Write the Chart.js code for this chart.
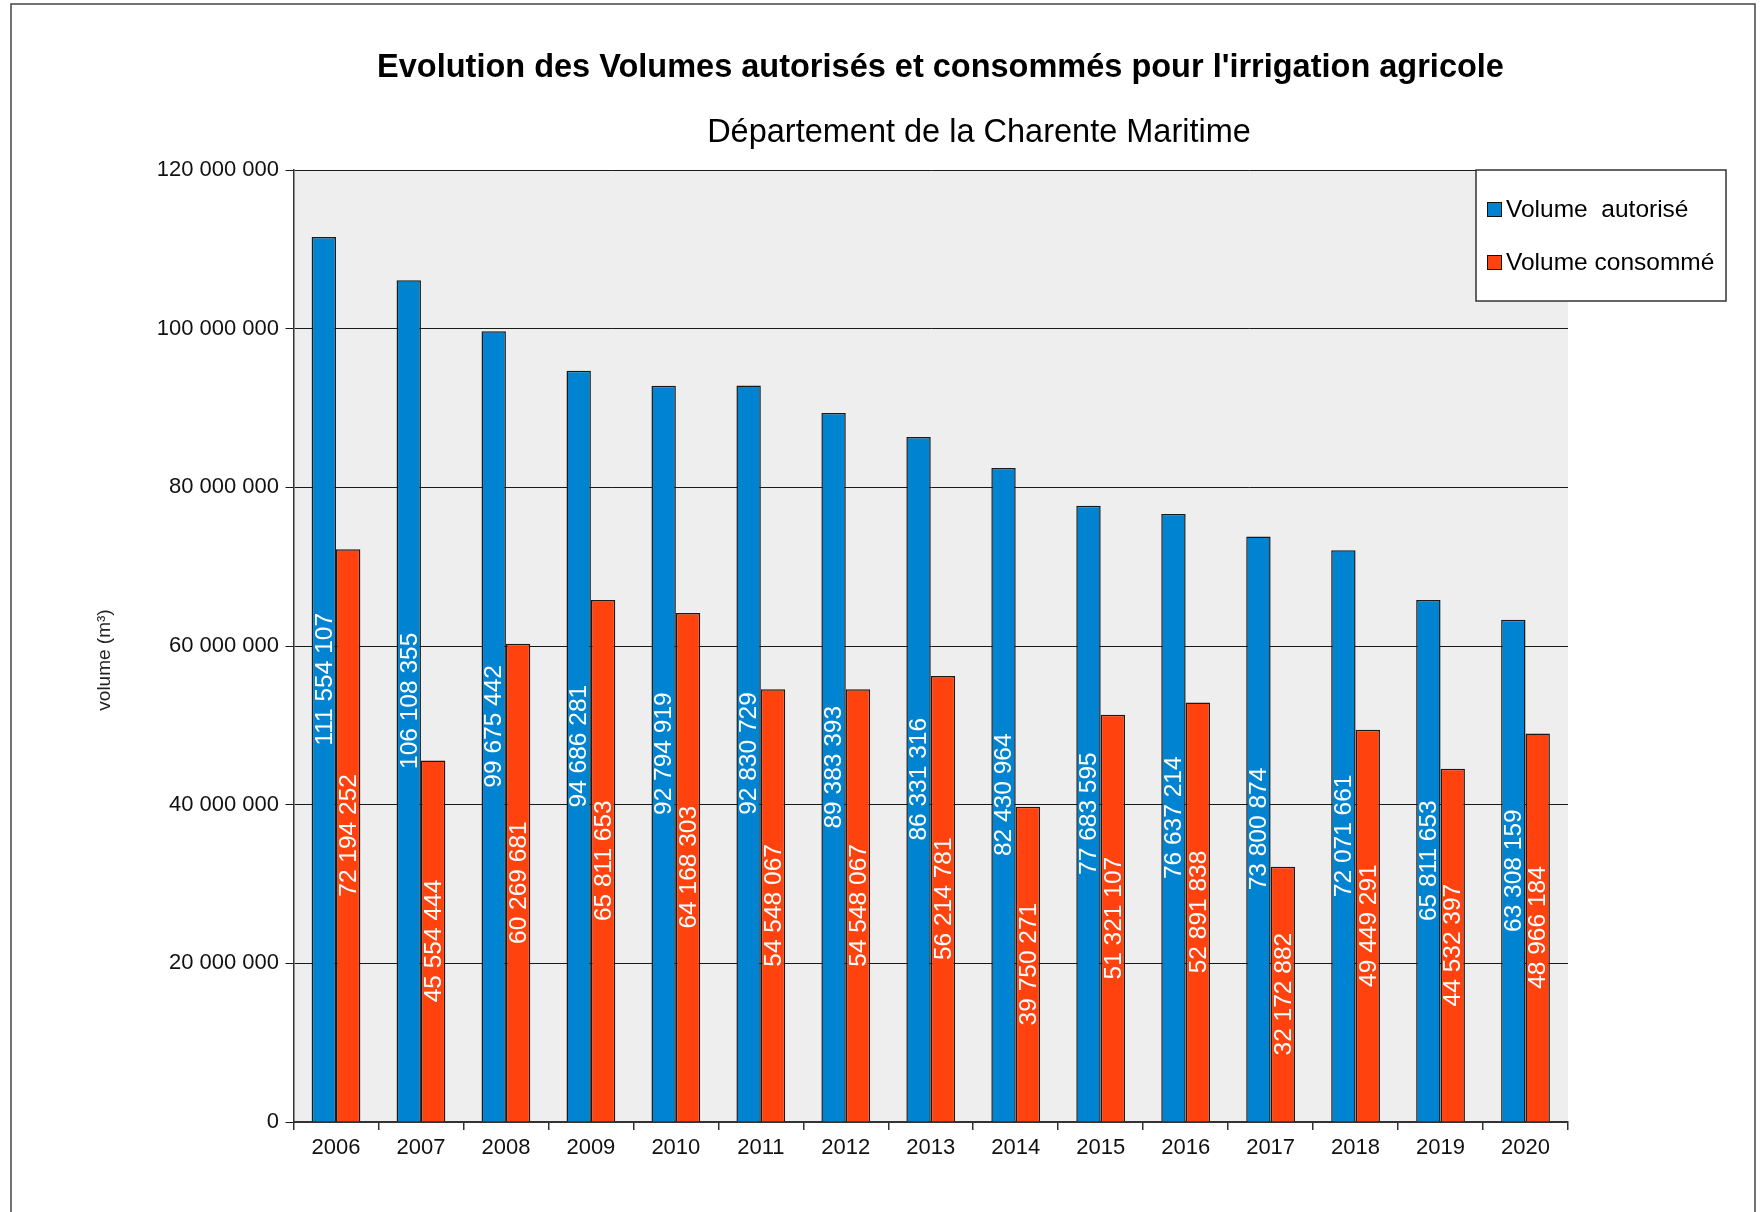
<!DOCTYPE html>
<html>
<head>
<meta charset="utf-8">
<script src="https://cdn.jsdelivr.net/npm/chart.js@4.4.1/dist/chart.umd.min.js"></script>
<style>
html,body{margin:0;padding:0;background:#fff;}
canvas{display:block;}
</style>
</head>
<body>
<canvas id="c" width="1764" height="1212"></canvas>
<script>
// ---- Data ----
const years = ['2006','2007','2008','2009','2010','2011','2012','2013','2014','2015','2016','2017','2018','2019','2020'];
const volumeAutorise = [111554107,106108355,99675442,94686281,92794919,92830729,89383393,86331316,82430964,77683595,76637214,73800874,72071661,65811653,63308159];
const volumeConsomme = [72194252,45554444,60269681,65811653,64168303,54548067,54548067,56214781,39750271,51321107,52891838,32172882,49449291,44532397,48966184];
const yTickValues = [0,20000000,40000000,60000000,80000000,100000000,120000000];
const seriesNames = ['Volume  autorisé','Volume consommé'];
const seriesColors = ['#0084d1','#ff420e'];
const titleText = "Evolution des Volumes autorisés et consommés pour l'irrigation agricole";
const subtitleText = 'Département de la Charente Maritime';
const yAxisTitle = 'volume (m³)';

const FONT = '"Liberation Sans", Arial, sans-serif';
function fmt(v){ return String(Math.round(v)).replace(/\B(?=(\d{3})+(?!\d))/g,' '); }

const bgPlugin = {
  id:'bg',
  beforeDraw(chart){
    const ctx = chart.ctx, a = chart.chartArea;
    ctx.save();
    ctx.fillStyle = '#ffffff';
    ctx.fillRect(0,0,chart.width,chart.height);
    ctx.fillStyle = '#eeeeee';
    ctx.fillRect(a.left, a.top, a.right-a.left, a.bottom-a.top);
    ctx.restore();
  }
};

const valueLabels = {
  id:'valueLabels',
  afterDatasetsDraw(chart){
    const ctx = chart.ctx;
    ctx.save();
    ctx.font = '24.5px ' + FONT;
    ctx.fillStyle = '#ffffff';
    ctx.textAlign = 'center';
    ctx.textBaseline = 'middle';
    chart.data.datasets.forEach((ds, di) => {
      const meta = chart.getDatasetMeta(di);
      meta.data.forEach((el, i) => {
        const cy = (el.y + el.base) / 2;
        ctx.save();
        ctx.translate(el.x + 1, cy);
        ctx.rotate(-Math.PI/2);
        ctx.fillText(fmt(ds.data[i]), 0, 0);
        ctx.restore();
      });
    });
    ctx.restore();
  }
};

const decor = {
  id:'decor',
  afterDraw(chart){
    const ctx = chart.ctx;
    ctx.save();
    // outer frame
    ctx.strokeStyle = '#444';
    ctx.lineWidth = 1.5;
    ctx.strokeRect(11, 4, 1744, 1300);
    // titles
    ctx.fillStyle = '#000';
    ctx.textAlign = 'center';
    ctx.textBaseline = 'alphabetic';
    ctx.font = 'bold 32.5px ' + FONT;
    ctx.fillText(titleText, 940.5, 76.5);
    ctx.font = '32.5px ' + FONT;
    ctx.fillText(subtitleText, 979, 141.5);
    // y axis title
    ctx.save();
    ctx.font = '19px ' + FONT;
    ctx.fillStyle = '#222';
    ctx.translate(109.5, 660);
    ctx.rotate(-Math.PI/2);
    ctx.textAlign = 'center';
    ctx.fillText(yAxisTitle, 0, 0);
    ctx.restore();
    // legend
    const lx = 1476, ly = 170, lw = 250, lh = 131;
    ctx.fillStyle = '#ffffff';
    ctx.fillRect(lx, ly, lw, lh);
    ctx.strokeStyle = '#333';
    ctx.lineWidth = 1.5;
    ctx.strokeRect(lx, ly, lw, lh);
    const baselines = [217, 270];
    chart.data.datasets.forEach((ds, i) => {
      const b = baselines[i];
      ctx.fillStyle = ds.backgroundColor;
      ctx.fillRect(1487, b-15, 15, 15);
      ctx.strokeStyle = '#111';
      ctx.lineWidth = 1;
      ctx.strokeRect(1487.5, b-14.5, 14, 14);
      ctx.fillStyle = '#000';
      ctx.textAlign = 'left';
      ctx.font = '24.5px ' + FONT;
      ctx.fillText(ds.label, 1506, b);
    });
    ctx.restore();
  }
};

new Chart(document.getElementById('c'), {
  type:'bar',
  data:{
    labels: years,
    datasets:[
      {label: seriesNames[0], data: volumeAutorise, backgroundColor: seriesColors[0], borderColor:'#1a1a1a', borderWidth:1.5},
      {label: seriesNames[1], data: volumeConsomme, backgroundColor: seriesColors[1], borderColor:'#1a1a1a', borderWidth:1.5}
    ]
  },
  options:{
    responsive:false,
    devicePixelRatio:1,
    animation:false,
    layout:{padding:{top:170, right:196, left:0, bottom:0}},
    datasets:{bar:{categoryPercentage:0.574, barPercentage:1}},
    plugins:{legend:{display:false}, tooltip:{enabled:false}, title:{display:false}},
    scales:{
      x:{
        grid:{offset:true, drawOnChartArea:false, drawTicks:true, tickLength:8, color:'#333', lineWidth:1.5},
        border:{color:'#333', width:2},
        ticks:{font:{family:FONT, size:22}, color:'#111', padding:5, maxRotation:0},
        afterFit(s){ s.height = 90; }
      },
      y:{
        min:0, max:120000000,
        afterBuildTicks(s){ s.ticks = yTickValues.map(v => ({value:v})); },
        grid:{color:'#1a1a1a', lineWidth:1, tickLength:8, drawTicks:true},
        border:{color:'#333', width:1.5},
        ticks:{font:{family:FONT, size:22}, color:'#111', padding:6.5, callback:(v)=>fmt(v)},
        afterFit(s){ s.width = 293.5; }
      }
    }
  },
  plugins:[bgPlugin, valueLabels, decor]
});
</script>
</body>
</html>
